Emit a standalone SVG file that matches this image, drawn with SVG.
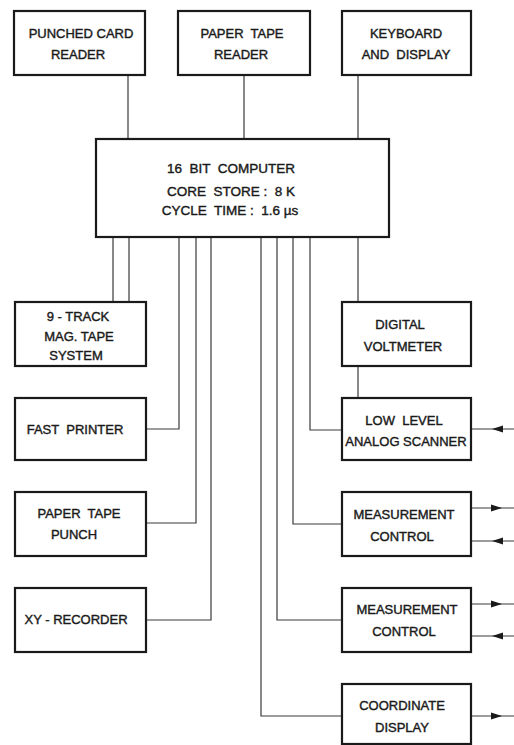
<svg xmlns="http://www.w3.org/2000/svg" xmlns:xlink="http://www.w3.org/1999/xlink" width="514" height="745" viewBox="0 0 514 745">
<defs>
<style>
.box{fill:#fff;stroke:#1a1a1a;stroke-width:2.2}
.ln{fill:none;stroke:#3a3a3a;stroke-width:1.2}
text{font-family:"Liberation Sans",Arial,sans-serif;font-size:13px;fill:#1a1a1a;text-anchor:middle;stroke:#1a1a1a;stroke-width:0.4}
.big{font-size:13.5px}
</style>
<path id="ar" d="M-11,-3.5 L0,0 L-11,3.5 Z" fill="#1a1a1a"/>
<path id="al" d="M11,-3.5 L0,0 L11,3.5 Z" fill="#1a1a1a"/>
</defs>
<rect width="514" height="745" fill="#fff"/>
<g id="connectors">
<path class="ln" d="M128,75V139M244,75V139M358,75V139"/>
<path class="ln" d="M113,237V302M129,237V302"/>
<path class="ln" d="M179,237V429H146"/>
<path class="ln" d="M196,237V523H146"/>
<path class="ln" d="M211,237V620H146"/>
<path class="ln" d="M358,237V302M358,366V398"/>
<path class="ln" d="M310,237V430H342"/>
<path class="ln" d="M293,237V524H342"/>
<path class="ln" d="M277,237V620H342"/>
<path class="ln" d="M261,237V716H342"/>
<path class="ln" d="M471,429H514M471,508H514M471,541H514M471,604H514M471,636H514M471,716H514"/>
<use xlink:href="#al" x="492" y="429"/>
<use xlink:href="#ar" x="502" y="508"/>
<use xlink:href="#al" x="492" y="541"/>
<use xlink:href="#ar" x="502" y="604"/>
<use xlink:href="#al" x="492" y="636"/>
<use xlink:href="#ar" x="502" y="716"/>
</g>
<g id="punched-card-reader"><rect class="box" x="14" y="11" width="131" height="64"/><text x="81" y="38">PUNCHED CARD</text><text x="78" y="59">READER</text></g>
<g id="paper-tape-reader"><rect class="box" x="178" y="11" width="132" height="64"/><text x="242" y="38" xml:space="preserve">PAPER  TAPE</text><text x="241" y="59">READER</text></g>
<g id="keyboard"><rect class="box" x="342" y="11" width="129" height="64"/><text x="406" y="38">KEYBOARD</text><text x="406" y="59" xml:space="preserve">AND  DISPLAY</text></g>
<g id="computer"><rect class="box" x="96" y="139" width="293" height="98"/>
<text class="big" x="231" y="173" xml:space="preserve">16  BIT  COMPUTER</text>
<text class="big" x="231" y="196" xml:space="preserve">CORE  STORE :  8 K</text>
<text class="big" x="230" y="215" xml:space="preserve">CYCLE  TIME :  1.6 µs</text></g>
<g id="mag-tape"><rect class="box" x="15" y="302" width="131" height="64"/><text x="78" y="321">9 - TRACK</text><text x="79" y="341">MAG. TAPE</text><text x="76" y="360">SYSTEM</text></g>
<g id="fast-printer"><rect class="box" x="15" y="398" width="131" height="62"/><text x="75" y="434" xml:space="preserve">FAST  PRINTER</text></g>
<g id="paper-tape-punch"><rect class="box" x="15" y="492" width="131" height="64"/><text x="79" y="518" xml:space="preserve">PAPER  TAPE</text><text x="74" y="539">PUNCH</text></g>
<g id="xy-recorder"><rect class="box" x="15" y="588" width="131" height="64"/><text x="76" y="624">XY - RECORDER</text></g>
<g id="digital-voltmeter"><rect class="box" x="342" y="302" width="129" height="64"/><text x="400" y="329">DIGITAL</text><text x="403" y="351">VOLTMETER</text></g>
<g id="analog-scanner"><rect class="box" x="342" y="398" width="129" height="62"/><text x="404" y="425" xml:space="preserve">LOW  LEVEL</text><text x="406" y="446">ANALOG SCANNER</text></g>
<g id="measurement-control-1"><rect class="box" x="342" y="492" width="129" height="64"/><text x="404" y="519">MEASUREMENT</text><text x="402" y="541">CONTROL</text></g>
<g id="measurement-control-2"><rect class="box" x="342" y="588" width="129" height="64"/><text x="407" y="614">MEASUREMENT</text><text x="404" y="636">CONTROL</text></g>
<g id="coordinate-display"><rect class="box" x="342" y="684" width="129" height="60"/><text x="402" y="710">COORDINATE</text><text x="402" y="732">DISPLAY</text></g>
</svg>
